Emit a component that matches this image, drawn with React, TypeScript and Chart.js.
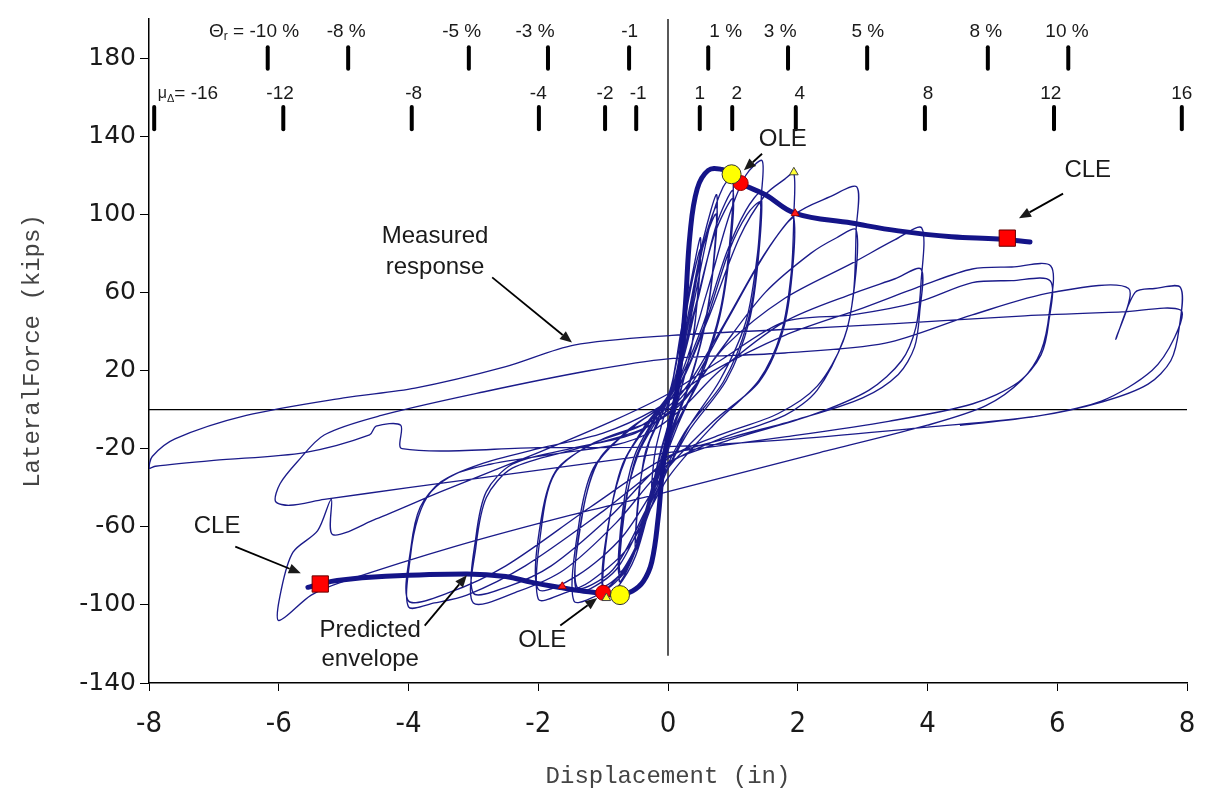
import React, { useEffect, useRef } from 'react';
import { Chart, registerables } from 'chart.js';

Chart.register(...registerables);

// ---------- axes ----------
const xTickValues = [-8, -6, -4, -2, 0, 2, 4, 6, 8];
const yTickValues = [-140, -100, -60, -20, 20, 60, 100, 140, 180];

// ---------- measured response (read half-cycle by half-cycle) ----------
const start: [number, number][] = [[0, 0]];
const cycle01: [number, number][] = [
  [0.1, 20], [0.2, 38], [0.25, 45],
  [0.22, 30], [0.12, 10], [0, -8], [-0.12, -22], [-0.25, -40],
];
const cycle02: [number, number][] = [
  [-0.2, -22], [-0.1, -8], [0.05, 10], [0.2, 40], [0.35, 65], [0.5, 88],
  [0.46, 60], [0.38, 35], [0.2, 10], [0.05, -8], [-0.15, -30], [-0.3, -50], [-0.5, -72],
];
const cycle03: [number, number][] = [
  [-0.45, -45], [-0.35, -22], [-0.15, -5], [0.05, 12], [0.25, 45], [0.4, 70], [0.5, 82],
  [0.45, 55], [0.35, 30], [0.15, 5], [-0.05, -15], [-0.25, -40], [-0.4, -58], [-0.5, -68],
];
const cycle04: [number, number][] = [
  [-0.44, -40], [-0.3, -18], [-0.1, -3], [0.1, 15], [0.35, 55], [0.55, 88], [0.75, 110],
  [0.7, 75], [0.58, 45], [0.35, 15], [0.1, -8], [-0.15, -30], [-0.4, -60], [-0.6, -80], [-0.75, -88],
];
const cycle05: [number, number][] = [
  [-0.68, -55], [-0.5, -25], [-0.2, -5], [0.1, 12], [0.35, 50], [0.55, 85], [0.75, 104],
  [0.69, 70], [0.55, 40], [0.3, 10], [0.05, -12], [-0.2, -38], [-0.45, -68], [-0.75, -85],
];
const cycle05b: [number, number][] = [
  [-0.7, -52], [-0.52, -24], [-0.22, -5], [0.08, 11], [0.33, 48], [0.53, 82], [0.74, 100],
  [0.68, 68], [0.53, 38], [0.28, 9], [0.03, -12], [-0.22, -40], [-0.47, -68], [-0.74, -83],
];
const cycle06: [number, number][] = [
  [-0.67, -50], [-0.45, -22], [-0.15, -4], [0.15, 15], [0.4, 55], [0.65, 95], [0.85, 114], [1.0, 119],
  [0.95, 85], [0.8, 50], [0.5, 18], [0.15, -8], [-0.2, -40], [-0.5, -75], [-0.8, -92], [-1.0, -96],
];
const cycle07: [number, number][] = [
  [-0.92, -60], [-0.7, -28], [-0.3, -6], [0.1, 12], [0.45, 55], [0.75, 95], [1.0, 112],
  [0.94, 78], [0.78, 45], [0.45, 14], [0.1, -10], [-0.25, -45], [-0.6, -80], [-1.0, -92],
];
const cycle07b: [number, number][] = [
  [-0.93, -62], [-0.72, -30], [-0.35, -8], [0.05, 10], [0.4, 50], [0.72, 90], [1.0, 108],
  [0.95, 80], [0.8, 48], [0.5, 16], [0.12, -8], [-0.22, -42], [-0.58, -78], [-1.0, -90],
];
const cycle08: [number, number][] = [
  [-0.9, -55], [-0.65, -25], [-0.25, -5], [0.2, 18], [0.6, 60], [0.95, 100], [1.2, 120], [1.45, 127.5],
  [1.44, 110], [1.38, 80], [1.2, 45], [0.8, 15], [0.3, -10], [-0.2, -45], [-0.6, -78], [-1.0, -93], [-1.45, -98],
];
const cycle09: [number, number][] = [
  [-1.38, -60], [-1.15, -30], [-0.6, -10], [0, 5], [0.5, 40], [0.9, 80], [1.2, 102], [1.43, 111],
  [1.4, 80], [1.25, 45], [0.9, 15], [0.3, -12], [-0.3, -50], [-0.8, -82], [-1.4, -93],
];
const cycle09b: [number, number][] = [
  [-1.34, -58], [-1.1, -28], [-0.55, -9], [0.05, 6], [0.55, 42], [0.95, 82], [1.22, 100], [1.42, 106],
  [1.39, 78], [1.22, 44], [0.85, 14], [0.25, -12], [-0.35, -52], [-0.85, -82], [-1.4, -91],
];
const cycle10: [number, number][] = [
  [-1.33, -55], [-1.05, -25], [-0.5, -8], [0.1, 8], [0.6, 45], [1.1, 88], [1.5, 110], [1.8, 118], [1.94, 121],
  [1.94, 100], [1.9, 70], [1.75, 40], [1.4, 15], [0.7, -8], [0, -35], [-0.6, -70], [-1.2, -88], [-1.6, -94], [-2.0, -97],
];
const cycle11: [number, number][] = [
  [-1.95, -60], [-1.75, -33], [-1.2, -18], [-0.4, -8], [0.2, 8], [0.8, 40], [1.4, 75], [1.75, 92], [1.94, 98],
  [1.9, 65], [1.75, 38], [1.4, 14], [0.7, -6], [0, -30], [-0.7, -65], [-1.4, -85], [-2.0, -92],
];
const cycle12: [number, number][] = [
  [-1.95, -55], [-1.7, -30], [-1.0, -15], [-0.2, -5], [0.3, 10], [0.9, 45], [1.5, 80], [1.96, 100], [2.5, 109], [2.91, 114],
  [2.9, 92], [2.86, 60], [2.72, 37], [2.3, 10], [1.8, -3], [0.8, -15], [0, -28], [-0.8, -58], [-1.6, -82], [-2.3, -93], [-3.0, -99],
];
const cycle13: [number, number][] = [
  [-2.96, -70], [-2.8, -45], [-2.4, -30], [-1.4, -20], [-0.4, -10], [0.2, 3], [0.8, 30], [1.5, 60], [2.2, 80], [2.6, 88], [2.9, 92],
  [2.87, 62], [2.7, 35], [2.3, 12], [1.7, -2], [0.8, -13], [0, -25], [-0.9, -55], [-1.8, -80], [-2.5, -91], [-3.0, -94],
];
const cycle14: [number, number][] = [
  [-2.96, -65], [-2.8, -42], [-2.4, -28], [-1.5, -20], [-0.5, -12], [0.2, 4], [0.9, 33], [1.8, 57], [2.84, 75], [3.5, 87], [3.91, 93],
  [3.9, 65], [3.82, 42], [3.6, 25], [3.1, 10], [2.2, -3], [1.0, -15], [0, -27], [-1.0, -52], [-2.2, -80], [-3.1, -95], [-3.6, -99], [-4.0, -101],
];
const cycle15: [number, number][] = [
  [-3.97, -75], [-3.85, -55], [-3.65, -42], [-3.28, -33], [-2.74, -28], [-2.2, -25], [-1.6, -22], [-0.8, -18], [-0.3, -12], [0.2, 0], [0.8, 20], [1.8, 45], [2.9, 60], [3.5, 67], [3.9, 72],
  [3.88, 50], [3.8, 32], [3.55, 18], [3.0, 6], [2.0, -5], [1.0, -14], [0, -24], [-1.2, -50], [-2.5, -80], [-3.4, -94], [-4.0, -98],
];
const cycle16: [number, number][] = [
  [-3.96, -70], [-3.82, -50], [-3.5, -37], [-2.9, -28], [-2.0, -20], [-1.0, -12], [-0.2, 0], [0.6, 18], [1.8, 38], [3.0, 52], [3.96, 64], [4.69, 72], [5.3, 73], [5.9, 73.5],
  [5.88, 50], [5.75, 30], [5.45, 15], [4.9, 2], [4.0, -8], [2.34, -22], [0, -42], [-1.5, -54], [-3.28, -70], [-5.0, -88], [-5.5, -95], [-6.0, -108],
];
const cycle17: [number, number][] = [
  [-5.96, -92], [-5.78, -73], [-5.4, -62], [-5.19, -46], [-5.17, -64], [-4.5, -56], [-3.5, -42], [-2.0, -22], [-0.8, -5], [0, 8], [0.8, 25], [1.8, 45], [2.84, 48.5], [3.85, 55], [4.69, 65], [5.3, 66], [5.89, 66],
  [5.87, 45], [5.75, 28], [5.4, 14], [4.7, 3], [3.4, -6], [1.8, -14], [0, -22], [-2.22, -32], [-4.0, -40], [-5.3, -46], [-5.83, -49], [-6.05, -47],
];
const cycle18: [number, number][] = [
  [-5.98, -38], [-5.72, -27], [-5.3, -13], [-4.42, -3], [-2.85, 9], [-1.2, 20], [0, 26], [1.8, 29], [3.35, 34], [4.69, 48.5], [5.92, 60], [7.1, 62], [6.9, 36], [7.2, 60], [7.5, 62], [7.9, 62.5],
  [7.88, 42], [7.75, 25], [7.4, 13], [6.7, 4], [5.66, -3.5], [4.0, -9], [2.0, -15], [0, -19], [-2.0, -19.5], [-4.1, -20], [-4.12, -8], [-4.5, -8.5], [-4.6, -13], [-5.6, -22], [-7.0, -26], [-7.9, -29], [-8.0, -30],
];
const cycle19: [number, number][] = [
  [-7.95, -24], [-7.6, -15], [-6.5, -3], [-5.0, 6], [-3.9, 11], [-2.5, 22], [-1.45, 33], [0.06, 38], [1.8, 41], [3.5, 44], [5.5, 48], [7.0, 50], [7.9, 51],
  [7.81, 37], [7.46, 20], [6.69, 4.5], [5.66, -3.5], [4.5, -8],
];

// ---------- predicted envelope ----------
const envelope: [number, number][] = [
  [-5.55, -91], [-5.36, -89.3], [-5.1, -87.5], [-4.35, -85.4], [-3.1, -84.2], [-2.5, -85.5], [-2.1, -88.5],
  [-1.63, -91.3], [-1.3, -93], [-1.0, -94], [-0.74, -95], [-0.55, -93], [-0.38, -88], [-0.25, -78], [-0.15, -55],
  [-0.08, -30], [0.03, -8], [0.15, 12], [0.26, 50], [0.34, 90], [0.45, 113], [0.62, 122.5], [0.83, 123],
  [0.98, 120.5], [1.12, 116], [1.5, 110], [1.96, 100.5], [2.83, 95.5], [3.55, 91.5], [4.37, 88.5], [5.09, 87.4], [5.58, 85.8],
];

// ---------- limit-state markers ----------
const yellowCircles: [number, number][] = [[0.98, 120.5], [-0.74, -95]];
const redCircles: [number, number][] = [[1.12, 116], [-1.0, -93.8]];
const yellowTriangles: [number, number][] = [[1.94, 121.5], [-0.95, -96.5]];
const redTriangles: [number, number][] = [[1.96, 100.5], [-1.63, -90.5]];
const redSquares: [number, number][] = [[5.23, 87.8], [-5.36, -89.3]];

// ---------- top scales: drift ratio and displacement ductility ----------
const driftMarkX = [-6.17, -4.93, -3.07, -1.85, -0.6, 0.62, 1.85, 3.07, 4.93, 6.17];
const driftLabels = ['-10 %', '-8 %', '-5 %', '-3 %', '-1', '1 %', '3 %', '5 %', '8 %', '10 %'];
const driftLabelX = [-6.38, -4.96, -3.18, -2.05, -0.59, 0.89, 1.73, 3.08, 4.9, 6.15];
const ductMarkX = [-7.92, -5.93, -3.95, -1.99, -0.97, -0.49, 0.49, 0.99, 1.97, 3.96, 5.95, 7.92];
const ductLabels = ['-16', '-12', '-8', '-4', '-2', '-1', '1', '2', '4', '8', '12', '16'];
const ductLabelX = [-7.4, -5.98, -3.92, -2.0, -0.97, -0.46, 0.49, 1.06, 2.03, 4.01, 5.9, 7.92];

// ---------- callouts ----------
const noteTexts = [
  { text: 'OLE', x: 1.77, y: 138.6 },
  { text: 'CLE', x: 6.47, y: 122.7 },
  { text: 'Measured', x: -3.59, y: 88.9 },
  { text: 'response', x: -3.59, y: 72.7 },
  { text: 'CLE', x: -6.95, y: -59.6 },
  { text: 'Predicted', x: -4.59, y: -113 },
  { text: 'envelope', x: -4.59, y: -128 },
  { text: 'OLE', x: -1.94, y: -118 },
];
const noteArrows = [
  { from: [1.45, 131], to: [1.17, 122.5] },
  { from: [6.09, 110.6], to: [5.41, 98] },
  { from: [-2.71, 67.7], to: [-1.48, 34.3] },
  { from: [-6.67, -70.2], to: [-5.66, -83.8] },
  { from: [-3.75, -110.6], to: [-3.1, -84.8] },
  { from: [-1.66, -110.6], to: [-1.09, -96.5] },
];

const zeroVertical: [number, number][] = [[0, 200], [0, -126]];
const zeroHorizontal: [number, number][] = [[-8, 0], [8, 0]];

const xy = (a: [number, number][]) => a.map(([x, y]) => ({ x, y }));

const NAVY = '#1b1b8a';
const SANS = "'Liberation Sans', Arial, sans-serif";

function drawRich(ctx: CanvasRenderingContext2D, parts: [string, number, number][], cx: number, cy: number) {
  const widths = parts.map(([t, s]) => {
    ctx.font = `${s}px ${SANS}`;
    return ctx.measureText(t).width;
  });
  const total = widths.reduce((a, b) => a + b, 0);
  let xx = cx - total / 2;
  ctx.textAlign = 'left';
  ctx.textBaseline = 'middle';
  parts.forEach(([t, s, dy], i) => {
    ctx.font = `${s}px ${SANS}`;
    ctx.fillText(t, xx, cy + dy);
    xx += widths[i];
  });
}

const overlayPlugin = {
  id: 'overlay',
  afterDraw(chart: any) {
    const { ctx } = chart;
    const xs = chart.scales.x;
    const ys = chart.scales.y;
    const px = (v: number) => xs.getPixelForValue(v);
    const py = (v: number) => ys.getPixelForValue(v);
    ctx.save();
    // tick bars of the two upper scales
    ctx.strokeStyle = '#000';
    ctx.lineWidth = 4;
    ctx.lineCap = 'round';
    driftMarkX.forEach((v) => {
      ctx.beginPath();
      ctx.moveTo(px(v), py(185.5));
      ctx.lineTo(px(v), py(174.5));
      ctx.stroke();
    });
    ductMarkX.forEach((v) => {
      ctx.beginPath();
      ctx.moveTo(px(v), py(155));
      ctx.lineTo(px(v), py(143.5));
      ctx.stroke();
    });
    ctx.fillStyle = '#1a1a1a';
    driftLabels.forEach((t, i) => {
      if (i === 0) {
        drawRich(ctx, [['Θ', 19, 0], ['r', 12, 5], [' = ' + t, 19, 0]], px(driftLabelX[i]), py(193.4));
      } else {
        drawRich(ctx, [[t, 19, 0]], px(driftLabelX[i]), py(193.4));
      }
    });
    ductLabels.forEach((t, i) => {
      if (i === 0) {
        drawRich(ctx, [['μ', 16, 0], ['Δ', 11, 5], ['= ' + t, 19, 0]], px(ductLabelX[i]), py(161.6));
      } else {
        drawRich(ctx, [[t, 19, 0]], px(ductLabelX[i]), py(161.6));
      }
    });
    // callout texts
    ctx.fillStyle = '#1a1a1a';
    noteTexts.forEach((n) => drawRich(ctx, [[n.text, 24, 0]], px(n.x), py(n.y)));
    // arrows
    ctx.lineWidth = 1.8;
    ctx.lineCap = 'butt';
    noteArrows.forEach((a) => {
      const x1 = px(a.from[0]), y1 = py(a.from[1]);
      const x2 = px(a.to[0]), y2 = py(a.to[1]);
      const ang = Math.atan2(y2 - y1, x2 - x1);
      const L = 12, W = 5;
      const bx = x2 - L * Math.cos(ang), by = y2 - L * Math.sin(ang);
      ctx.beginPath();
      ctx.moveTo(x1, y1);
      ctx.lineTo(bx, by);
      ctx.stroke();
      ctx.beginPath();
      ctx.moveTo(x2, y2);
      ctx.lineTo(bx + W * Math.sin(ang), by - W * Math.cos(ang));
      ctx.lineTo(bx - W * Math.sin(ang), by + W * Math.cos(ang));
      ctx.closePath();
      ctx.fill();
    });
    ctx.restore();
  },
};

export default function App() {
  const ref = useRef<HTMLCanvasElement>(null);
  useEffect(() => {
    const measured = [
      ...start, ...cycle01, ...cycle02, ...cycle03, ...cycle04, ...cycle05, ...cycle05b, ...cycle06, ...cycle07,
      ...cycle07b, ...cycle08, ...cycle09, ...cycle09b, ...cycle10, ...cycle11, ...cycle12, ...cycle13, ...cycle14,
      ...cycle15, ...cycle16, ...cycle17, ...cycle18, ...cycle19,
    ];
    const marker = (data: [number, number][], style: string, r: number, fill: string, stroke: string) => ({
      data: xy(data),
      showLine: false,
      pointStyle: style,
      pointRadius: r,
      pointBackgroundColor: fill,
      pointBorderColor: stroke,
      pointBorderWidth: 1,
      clip: false as any,
    });
    const chart = new Chart(ref.current as HTMLCanvasElement, {
      type: 'scatter',
      data: {
        datasets: [
          marker(yellowTriangles, 'triangle', 5, '#ffff33', '#444'),
          marker(redTriangles, 'triangle', 4.5, '#ff1a1a', '#aa0000'),
          marker(yellowCircles, 'circle', 9.5, '#ffff00', '#333'),
          marker(redCircles, 'circle', 7.5, '#ff0000', '#990000'),
          marker(redSquares, 'rect', 11.5, '#ff0000', '#660000'),
          {
            data: xy(envelope),
            showLine: true,
            borderColor: '#141488',
            borderWidth: 5,
            pointRadius: 0,
            tension: 0.4,
            borderCapStyle: 'round',
          } as any,
          {
            data: xy(measured),
            showLine: true,
            borderColor: NAVY,
            borderWidth: 1.35,
            pointRadius: 0,
            tension: 0.3,
          },
          {
            data: xy(zeroHorizontal),
            showLine: true,
            borderColor: '#000',
            borderWidth: 1.3,
            pointRadius: 0,
          },
          {
            data: xy(zeroVertical),
            showLine: true,
            borderColor: '#000',
            borderWidth: 1.3,
            pointRadius: 0,
          },
        ],
      },
      options: {
        animation: false,
        responsive: false,
        devicePixelRatio: 1,
        layout: { padding: { top: 10, right: 30, left: 0, bottom: 0 } },
        plugins: {
          legend: { display: false },
          tooltip: { enabled: false },
        },
        events: [],
        scales: {
          x: {
            type: 'linear',
            min: -8,
            max: 8,
            afterBuildTicks: (axis: any) => {
              axis.ticks = xTickValues.map((v) => ({ value: v }));
            },
            afterFit: (axis: any) => {
              axis.height = 106;
            },
            grid: { display: true, drawOnChartArea: false, drawTicks: true, tickLength: 8, color: '#000', lineWidth: 1 },
            border: { display: true, color: '#000', width: 1.5 },
            ticks: {
              color: '#1a1a1a',
              padding: 16,
              maxRotation: 0,
              font: { family: "'Liberation Sans Narrow', 'DejaVu Sans Condensed', 'Liberation Sans', sans-serif", size: 29 },
            },
            title: {
              display: true,
              text: 'Displacement (in)',
              color: '#444',
              font: { family: "'Liberation Mono', 'DejaVu Sans Mono', monospace", size: 24, lineHeight: 1.0 },
              padding: { top: 0, bottom: 0 },
            },
          },
          y: {
            type: 'linear',
            min: -140,
            max: 200,
            afterBuildTicks: (axis: any) => {
              axis.ticks = yTickValues.map((v) => ({ value: v }));
            },
            afterFit: (axis: any) => {
              axis.width = 149;
            },
            grid: { display: true, drawOnChartArea: false, drawTicks: true, tickLength: 9, color: '#000', lineWidth: 1 },
            border: { display: true, color: '#000', width: 1.5 },
            ticks: {
              color: '#1a1a1a',
              padding: 4,
              font: { family: "'DejaVu Sans', sans-serif", size: 25 },
            },
            title: {
              display: true,
              text: 'LateralForce (kips)',
              color: '#444',
              font: { family: "'Liberation Mono', 'DejaVu Sans Mono', monospace", size: 24, lineHeight: 1.2 },
              padding: { top: 18, bottom: 0 },
            },
          },
        },
      },
      plugins: [overlayPlugin],
    } as any);
    return () => chart.destroy();
  }, []);
  return (
    <div style={{ position: 'absolute', left: 0, top: 0, width: 1217, height: 789 }}>
      <canvas ref={ref} width={1217} height={789} style={{ display: 'block' }} />
    </div>
  );
}
